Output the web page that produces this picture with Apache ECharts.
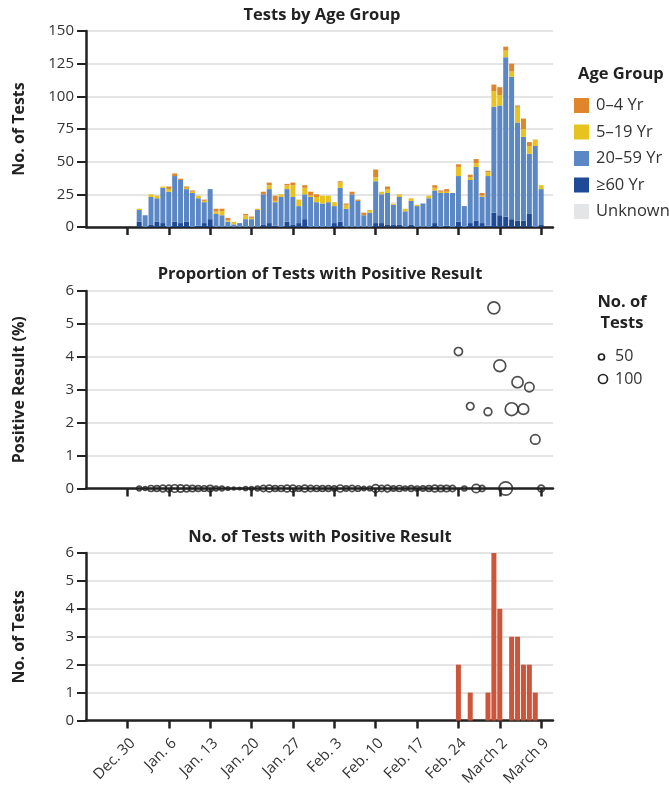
<!DOCTYPE html>
<html>
<head>
<meta charset="utf-8">
<script src="https://cdn.jsdelivr.net/npm/echarts@6/dist/echarts.min.js"></script>
<style>
html,body{margin:0;padding:0;background:#fff;}
#c{width:669px;height:790px;}
</style>
</head>
<body>
<div id="c"></div>
<script>
// Day categories along the shared x axis (Dec 23, 2019 to March 11, 2020)
const categories = [
 'Dec 23','Dec 24','Dec 25','Dec 26','Dec 27','Dec 28','Dec 29','Dec 30','Dec 31',
 'Jan 1','Jan 2','Jan 3','Jan 4','Jan 5','Jan 6','Jan 7','Jan 8','Jan 9','Jan 10',
 'Jan 11','Jan 12','Jan 13','Jan 14','Jan 15','Jan 16','Jan 17','Jan 18','Jan 19','Jan 20',
 'Jan 21','Jan 22','Jan 23','Jan 24','Jan 25','Jan 26','Jan 27','Jan 28','Jan 29','Jan 30','Jan 31',
 'Feb 1','Feb 2','Feb 3','Feb 4','Feb 5','Feb 6','Feb 7','Feb 8','Feb 9','Feb 10',
 'Feb 11','Feb 12','Feb 13','Feb 14','Feb 15','Feb 16','Feb 17','Feb 18','Feb 19','Feb 20',
 'Feb 21','Feb 22','Feb 23','Feb 24','Feb 25','Feb 26','Feb 27','Feb 28','Feb 29',
 'Mar 1','Mar 2','Mar 3','Mar 4','Mar 5','Mar 6','Mar 7','Mar 8','Mar 9','Mar 10','Mar 11'
];
// Tick positions and their labels
const tickDates  = ['Dec 30','Jan 6','Jan 13','Jan 20','Jan 27','Feb 3','Feb 10','Feb 17','Feb 24','Mar 2','Mar 9'];
const tickLabels = ['Dec. 30','Jan. 6','Jan. 13','Jan. 20','Jan. 27','Feb. 3','Feb. 10','Feb. 17','Feb. 24','March 2','March 9'];

// Daily data, Jan 1 .. Mar 9 (69 days)
const firstDay = 'Jan 1';
const age60plus = [
 4,0,2,4,3,0,4,3,4,0,1,3,6,0,0,0,0,0,0,0,0,2,3,1,0,4,2,3,6,0,0,
 0,0,3,4,0,0,0,0,0,3,3,2,2,2,0,2,0,0,0,3,0,1,0,4,0,3,5,3,1,
 11,9,8,6,5,5,10,0,2
];
const age20to59 = [
 9,9,21,18,27,27,35,33,25,26,21,16,23,10,9,4,2,3,6,6,13,23,26,18,23,25,21,13,19,23,19,
 18,19,13,26,14,25,20,9,11,32,22,24,15,21,12,18,16,18,22,25,26,25,26,35,16,33,41,20,38,
 81,84,122,109,75,64,46,62,27
];
const age5to19 = [
 1,0,2,2,1,2,0,0,1,1,2,1,0,2,3,1,2,0,3,1,1,0,3,1,2,3,9,5,5,1,4,
 6,5,3,4,3,0,0,0,2,3,2,3,1,2,2,2,1,0,2,2,1,1,0,7,0,2,3,1,3,
 12,8,5,4,12,6,6,5,3
];
const age0to4 = [
 0,0,0,0,0,2,2,1,1,1,0,1,0,2,2,2,0,0,1,1,0,2,2,4,0,1,2,0,2,3,2,
 0,0,0,1,1,2,1,2,0,6,0,2,0,0,0,0,0,0,0,2,1,2,0,2,0,2,3,2,1,
 5,6,3,6,1,8,3,0,0
];
const ageUnknown = [
 0,0,0,0,0,0,0,0,0,0,0,0,0,0,0,0,0,0,0,0,0,0,0,0,0,0,0,0,0,0,0,
 0,0,0,0,0,0,0,0,0,0,0,0,1,0,0,0,0,0,0,0,0,0,0,0,0,0,0,0,0,
 0,0,0,0,0,0,0,0,0
];
const totalTests = [
 14,9,25,24,31,31,41,37,31,28,24,21,29,14,14,7,4,3,10,8,14,27,34,24,25,33,34,21,32,27,25,
 24,24,19,35,18,27,21,11,13,44,27,31,19,25,14,22,17,18,24,32,28,29,26,48,16,40,52,26,43,
 109,107,138,125,93,83,65,67,32
];
const positivePct = [
 0,0,0,0,0,0,0,0,0,0,0,0,0,0,0,0,0,0,0,0,0,0,0,0,0,0,0,0,0,0,0,
 0,0,0,0,0,0,0,0,0,0,0,0,0,0,0,0,0,0,0,0,0,0,0,4.16,0,2.5,0,0,2.33,
 5.49,3.73,0,2.41,3.23,2.41,3.08,1.49,0
];
const positiveCount = [
 0,0,0,0,0,0,0,0,0,0,0,0,0,0,0,0,0,0,0,0,0,0,0,0,0,0,0,0,0,0,0,
 0,0,0,0,0,0,0,0,0,0,0,0,0,0,0,0,0,0,0,0,0,0,0,2,0,1,0,0,1,
 6,4,0,3,3,2,2,1,0
];

const FONT = '"Open Sans"';
const INK = '#222';
const TITLE_FONT = 'bold 16.5px ' + FONT;
const off = categories.indexOf(firstDay);
function onAxis(arr){
  return categories.map((c,i)=>{const k=i-off;return (k>=0&&k<arr.length)?arr[k]:'-';});
}
const isTick = (idx,val)=>tickDates.includes(val);

function xAxisFor(gridIndex, showLabels){
  return {
    type:'category', gridIndex, data:categories, boundaryGap:false,
    axisLine:{show:true,onZero:false,lineStyle:{color:INK,width:2.5}},
    axisTick:{show:true,interval:isTick,length:8,lineStyle:{color:INK,width:2.5}},
    axisLabel:{show:showLabels,interval:isTick,rotate:45,margin:15,
      verticalAlign:'top',
      fontFamily:FONT,fontSize:15,color:'#333',
      formatter:v=>{const i=tickDates.indexOf(v);return i>=0?tickLabels[i]:'';}},
    splitLine:{show:false}
  };
}
function yAxisFor(gridIndex,max,interval,name){
  return {
    type:'value', gridIndex, min:0, max, interval,
    name, nameLocation:'middle', nameGap:59, nameRotate:90,
    nameTextStyle:{fontFamily:FONT,fontSize:16,fontWeight:'bold',color:INK},
    axisLine:{show:true,lineStyle:{color:INK,width:2.5}},
    axisTick:{show:true,length:9,lineStyle:{color:INK,width:2}},
    axisLabel:{fontFamily:FONT,fontSize:15,color:'#333',margin:12},
    splitLine:{show:true,lineStyle:{color:'#e5e5e5',width:2}}
  };
}

const ageSeries = [
  {name:'≥60 Yr', data:age60plus, color:'#1f4a96'},
  {name:'20–59 Yr', data:age20to59, color:'#5b87c5'},
  {name:'5–19 Yr', data:age5to19, color:'#e8c21f'},
  {name:'0–4 Yr', data:age0to4, color:'#e0862a'},
  {name:'Unknown', data:ageUnknown, color:'#e4e5e7'}
].map(s=>({
  type:'bar', name:s.name, stack:'age', xAxisIndex:0, yAxisIndex:0,
  barWidth:5, data:onAxis(s.data), itemStyle:{color:s.color}
}));

const scatterData = categories.map((c,i)=>{
  const k=i-off;
  if(k<0||k>=positivePct.length) return null;
  return [c, positivePct[k], totalTests[k]];
}).filter(d=>d);

const gridBase = {left:86,width:467,containLabel:false,outerBoundsMode:'none'};
const chart = echarts.init(document.getElementById('c'),null,{renderer:'canvas'});
chart.setOption({
  animation:false,
  textStyle:{fontFamily:FONT},
  grid:[
    Object.assign({top:31,height:196},gridBase),
    Object.assign({top:291,height:197.5},gridBase),
    Object.assign({top:553,height:167.5},gridBase)
  ],
  xAxis:[xAxisFor(0,false),xAxisFor(1,false),xAxisFor(2,true)],
  yAxis:[
    yAxisFor(0,150,25,'No. of Tests'),
    yAxisFor(1,6,1,'Positive Result (%)'),
    yAxisFor(2,6,1,'No. of Tests')
  ],
  legend:{
    orient:'vertical', left:574, top:97, padding:0,
    itemWidth:15, itemHeight:15, itemGap:9.5,
    icon:'rect', selectedMode:false,
    data:['0–4 Yr','5–19 Yr','20–59 Yr','≥60 Yr','Unknown'],
    textStyle:{fontFamily:FONT,fontSize:16.5,color:'#333',padding:[0,0,0,2]}
  },
  series:[
    ...ageSeries,
    {
      type:'scatter', name:'Proportion', xAxisIndex:1, yAxisIndex:1, clip:false,
      data:scatterData,
      symbol:'circle',
      symbolSize:v=>1.1*Math.sqrt(v[2])+0.5,
      itemStyle:{color:'rgba(255,255,255,0)',borderColor:INK,borderWidth:1.7}
    },
    {
      type:'bar', name:'Positive', xAxisIndex:2, yAxisIndex:2, barWidth:5,
      data:onAxis(positiveCount), itemStyle:{color:'#cb563b'}
    }
  ],
  graphic:[
    {type:'text',x:322,y:15,style:{text:'Tests by Age Group',font:TITLE_FONT,fill:INK,textAlign:'center',textVerticalAlign:'middle'}},
    {type:'text',x:320,y:274,style:{text:'Proportion of Tests with Positive Result',font:TITLE_FONT,fill:INK,textAlign:'center',textVerticalAlign:'middle'}},
    {type:'text',x:320,y:537,style:{text:'No. of Tests with Positive Result',font:TITLE_FONT,fill:INK,textAlign:'center',textVerticalAlign:'middle'}},
    {type:'text',x:578,y:74,style:{text:'Age Group',font:TITLE_FONT,fill:INK,textAlign:'left',textVerticalAlign:'middle'}},
    {type:'text',x:622,y:313,style:{text:'No. of\nTests',font:TITLE_FONT,fill:INK,textAlign:'center',textVerticalAlign:'middle',lineHeight:21}},
    {type:'circle',shape:{cx:601.5,cy:357,r:3},style:{fill:'none',stroke:INK,lineWidth:1.7}},
    {type:'circle',shape:{cx:603,cy:379,r:4.5},style:{fill:'none',stroke:INK,lineWidth:1.7}},
    {type:'text',x:615,y:356,style:{text:'50',font:'16px '+FONT,fill:'#333',textAlign:'left',textVerticalAlign:'middle'}},
    {type:'text',x:615,y:379,style:{text:'100',font:'16px '+FONT,fill:'#333',textAlign:'left',textVerticalAlign:'middle'}}
  ]
});
</script>
</body>
</html>
